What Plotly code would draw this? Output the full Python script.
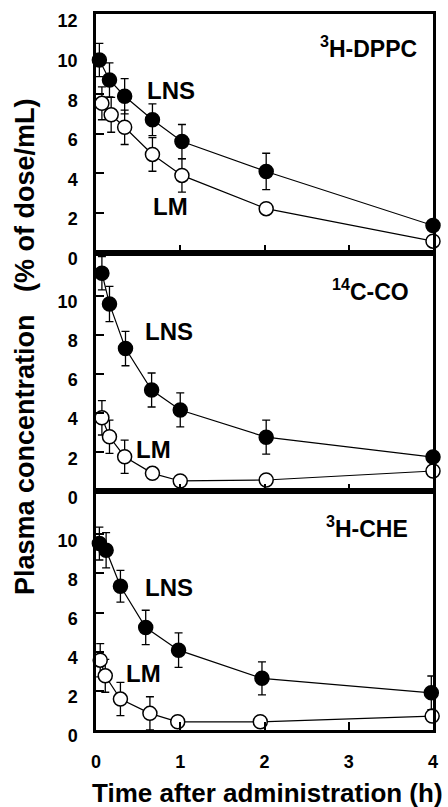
import plotly.graph_objects as go
from plotly.subplots import make_subplots

# ---- data ----
# Panel 1: 3H-DPPC
dppc_lns_t = [0.04, 0.16, 0.34, 0.67, 1.02, 2.02, 4.0]
dppc_lns_y = [9.73, 8.72, 7.90, 6.71, 5.61, 4.10, 1.37]
dppc_lns_e = [0.84, 0.86, 0.89, 0.80, 0.86, 0.92, 0.20]
dppc_lm_t = [0.07, 0.18, 0.34, 0.67, 1.02, 2.02, 4.0]
dppc_lm_y = [7.54, 6.96, 6.33, 4.96, 3.90, 2.22, 0.58]
dppc_lm_e = [0.83, 0.88, 0.87, 0.85, 0.84, 0.20, 0.15]

# Panel 2: 14C-CO
co_lns_t = [0.07, 0.16, 0.35, 0.66, 1.0, 2.02, 4.0]
co_lns_y = [11.15, 9.58, 7.30, 5.18, 4.16, 2.77, 1.75]
co_lns_e = [0.85, 0.90, 0.88, 0.87, 0.87, 0.87, 0.20]
co_lm_t = [0.07, 0.16, 0.34, 0.67, 1.0, 2.02, 4.0]
co_lm_y = [3.76, 2.79, 1.77, 0.92, 0.53, 0.58, 1.04]
co_lm_e = [0.88, 0.85, 0.85, 0.20, 0.15, 0.15, 0.20]

# Panel 3: 3H-CHE
che_lns_t = [0.04, 0.12, 0.29, 0.59, 0.98, 1.97, 3.98]
che_lns_y = [9.53, 9.19, 7.35, 5.24, 4.08, 2.64, 1.90]
che_lns_e = [0.84, 0.90, 0.81, 0.88, 0.88, 0.84, 0.86]
che_lm_t = [0.05, 0.11, 0.29, 0.64, 0.97, 1.95, 3.99]
che_lm_y = [3.57, 2.77, 1.58, 0.85, 0.42, 0.42, 0.71]
che_lm_e = [0.85, 0.84, 0.85, 0.85, 0.15, 0.15, 0.15]

panel_names = ["<sup>3</sup>H-DPPC", "<sup>14</sup>C-CO", "<sup>3</sup>H-CHE"]
x_ticks = [0, 1, 2, 3, 4]
y_ticks_top = [0, 2, 4, 6, 8, 10, 12]
y_ticks_other = [0, 2, 4, 6, 8, 10]

panels = [
    (dppc_lns_t, dppc_lns_y, dppc_lns_e, dppc_lm_t, dppc_lm_y, dppc_lm_e),
    (co_lns_t, co_lns_y, co_lns_e, co_lm_t, co_lm_y, co_lm_e),
    (che_lns_t, che_lns_y, che_lns_e, che_lm_t, che_lm_y, che_lm_e),
]

FONT = "Liberation Sans, Arial, sans-serif"

fig = make_subplots(rows=3, cols=1, shared_xaxes=True, vertical_spacing=0)

for i, (lt, ly, le, mt, my, me) in enumerate(panels):
    row = i + 1
    fig.add_trace(go.Scatter(
        x=mt, y=my, mode="lines+markers", cliponaxis=False,
        line=dict(color="black", width=1.2),
        marker=dict(symbol="circle", size=14, color="white",
                    line=dict(color="black", width=1.5)),
        error_y=dict(type="data", array=me, color="black", thickness=1.3, width=4),
        showlegend=False), row=row, col=1)
    fig.add_trace(go.Scatter(
        x=lt, y=ly, mode="lines+markers", cliponaxis=False,
        line=dict(color="black", width=1.2),
        marker=dict(symbol="circle", size=14, color="black",
                    line=dict(color="black", width=1.5)),
        error_y=dict(type="data", array=le, color="black", thickness=1.3, width=4),
        showlegend=False), row=row, col=1)

axis_common = dict(showgrid=False, zeroline=False, showline=True, linecolor="black",
                   linewidth=2.5, mirror=True, ticks="inside", tickcolor="black",
                   tickwidth=2, ticklen=8, ticklabeloverflow="allow",
                   tickfont=dict(family=FONT, size=18, color="black", weight="bold"))

for row in (1, 2, 3):
    fig.update_xaxes(range=[0, 4], tickvals=x_ticks, showticklabels=(row == 3),
                     ticklabelstandoff=14, row=row, col=1, **axis_common)

fig.update_yaxes(range=[0, 12.05], tickvals=y_ticks_top, row=1, col=1,
                 ticklabelstandoff=12, ticklabelshift=6, **axis_common)
fig.update_yaxes(range=[0, 12.2], tickvals=y_ticks_other, row=2, col=1,
                 ticklabelstandoff=12, ticklabelshift=6, **axis_common)
fig.update_yaxes(range=[0, 12.2], tickvals=y_ticks_other, row=3, col=1,
                 ticklabelstandoff=12, ticklabelshift=6, **axis_common)

W, H = 448, 807
L, R, T, B = 96, 10, 14, 77
pw, ph = W - L - R, H - T - B


def px(xp):
    return (xp - L) / pw


def py(yp):
    return (H - B - yp) / ph


ann_font = dict(family=FONT, size=23, color="black")
lab_font = dict(family=FONT, size=24, color="black")
texts = [
    (panel_names[0], 373, 47, ann_font),
    ("LNS", 172, 90, lab_font),
    ("LM", 172, 207, lab_font),
    (panel_names[1], 375, 290, ann_font),
    ("LNS", 170, 332, lab_font),
    ("LM", 154, 449, lab_font),
    (panel_names[2], 371, 527, ann_font),
    ("LNS", 170, 587, lab_font),
    ("LM", 144, 673, lab_font),
]
for t, x, y, f in texts:
    fig.add_annotation(text="<b>%s</b>" % t, x=px(x), y=py(y), xref="paper", yref="paper",
                       xanchor="center", yanchor="middle", showarrow=False, font=f)

fig.add_annotation(text="<b>Time after administration (h)</b>", x=px(270), y=py(793),
                   xref="paper", yref="paper", xanchor="center", yanchor="middle",
                   showarrow=False, font=dict(family=FONT, size=26, color="black"))
fig.add_annotation(text="<b>Plasma concentration\u00a0\u00a0\u00a0(% of dose/mL)</b>",
                   x=px(24), y=py(347), xref="paper", yref="paper", textangle=-90,
                   xanchor="center", yanchor="middle", showarrow=False,
                   font=dict(family=FONT, size=27, color="black"))

fig.update_layout(width=W, height=H, margin=dict(l=L, r=R, t=T, b=B),
                  paper_bgcolor="white", plot_bgcolor="white",
                  font=dict(family=FONT, color="black"))

fig.write_html("out.html")
